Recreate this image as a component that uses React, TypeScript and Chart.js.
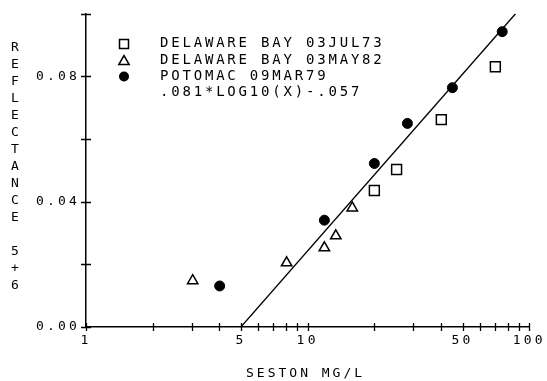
import React, { useEffect, useRef } from 'react';
import { Chart, registerables } from 'chart.js';

Chart.register(...registerables);

// ---- data ----
const squareX = [20.0, 25.2, 40.1, 70.3];
const squareY = [0.0436, 0.0503, 0.0662, 0.0831];
const triangleX = [3.03, 8.04, 11.9, 13.4, 15.9];
const triangleY = [0.0148, 0.0205, 0.0253, 0.0291, 0.038];
const circleX = [4.01, 11.9, 20.0, 28.2, 45.0, 75.5];
const circleY = [0.0131, 0.0341, 0.0522, 0.065, 0.0764, 0.0943];
const fitX = [5, 86.7];
const fitY = [0.0, 0.1];

const legendLabels = [
  'DELAWARE BAY 03JUL73',
  'DELAWARE BAY 03MAY82',
  'POTOMAC 09MAR79',
  '.081*LOG10(X)-.057',
];
const xTickValues = [1, 2, 3, 4, 5, 6, 7, 8, 9, 10, 20, 30, 40, 50, 60, 70, 80, 90, 100];
const xTickLabels = [1, 5, 10, 50, 100];
const yTickValues = [0, 0.02, 0.04, 0.06, 0.08, 0.1];
const yTickLabels = ['0.00', '0.04', '0.08'];
const xTitle = 'SESTON MG/L';
const yTitle = 'REFLECTANCE 5+6';

const FONT_FAMILY = '"DejaVu Sans Mono", "Liberation Mono", monospace';

const toPoints = (xs: number[], ys: number[]) => xs.map((x, i) => ({ x, y: ys[i] }));

const decorPlugin = {
  id: 'decor',
  beforeDraw(chart: any) {
    chart.ctx.letterSpacing = '3.2px';
  },
  afterDraw(chart: any) {
    const { ctx, chartArea, scales } = chart;
    const xs = scales.x;
    const ys = scales.y;
    ctx.save();
    ctx.strokeStyle = '#000';
    ctx.fillStyle = '#000';
    ctx.lineWidth = 1.3;
    // crossing tick marks
    ctx.beginPath();
    const axisY = chartArea.bottom;
    for (const v of xTickValues) {
      const px = Math.round(xs.getPixelForValue(v)) + 0.5;
      ctx.moveTo(px, axisY - 4);
      ctx.lineTo(px, axisY + 4);
    }
    const axisX = chartArea.left;
    for (const v of yTickValues) {
      const py = Math.round(ys.getPixelForValue(v)) + 0.5;
      ctx.moveTo(axisX - 5, py);
      ctx.lineTo(axisX + 5, py);
    }
    ctx.stroke();

    // legend
    const mx = 124;
    const tx = 160;
    const rows = [43.5, 60, 76.5, 92.5];
    ctx.lineWidth = 1.5;
    ctx.beginPath();
    ctx.rect(mx - 4.5, rows[0] - 4, 9, 9);
    ctx.stroke();
    const r = 6;
    const ty = rows[1] + 1.5;
    ctx.beginPath();
    ctx.moveTo(mx, ty - r);
    ctx.lineTo(mx + (r * Math.sqrt(3)) / 2, ty + r / 2);
    ctx.lineTo(mx - (r * Math.sqrt(3)) / 2, ty + r / 2);
    ctx.closePath();
    ctx.stroke();
    ctx.beginPath();
    ctx.arc(mx, rows[2], 5, 0, Math.PI * 2);
    ctx.fill();

    ctx.font = `14px ${FONT_FAMILY}`;
    ctx.letterSpacing = '2.8px';
    ctx.textAlign = 'left';
    ctx.textBaseline = 'middle';
    legendLabels.forEach((t, i) => ctx.fillText(t, tx, rows[i]));

    // x title
    ctx.font = `13px ${FONT_FAMILY}`;
    ctx.letterSpacing = '3px';
    ctx.textAlign = 'left';
    ctx.fillText(xTitle, 246, 374);

    // y title, stacked letters
    ctx.letterSpacing = '0px';
    ctx.textAlign = 'center';
    ctx.font = `13px ${FONT_FAMILY}`;
    yTitle.split('').forEach((ch, i) => {
      if (ch !== ' ') ctx.fillText(ch, 15, 48 + 17 * i);
    });
    ctx.restore();
  },
};

export default function App() {
  const ref = useRef<HTMLCanvasElement | null>(null);
  useEffect(() => {
    if (!ref.current) return;
    const chart = new Chart(ref.current, {
      type: 'scatter',
      data: {
        datasets: [
          {
            label: legendLabels[0],
            data: toPoints(squareX, squareY),
            pointStyle: 'rect',
            pointRadius: 7,
            borderColor: '#000',
            backgroundColor: 'rgba(255,255,255,0)',
            borderWidth: 1.5,
          },
          {
            label: legendLabels[1],
            data: toPoints(triangleX, triangleY),
            pointStyle: 'triangle',
            pointRadius: 6,
            borderColor: '#000',
            backgroundColor: 'rgba(255,255,255,0)',
            borderWidth: 1.5,
          },
          {
            label: legendLabels[2],
            data: toPoints(circleX, circleY),
            pointStyle: 'circle',
            pointRadius: 5,
            borderColor: '#000',
            backgroundColor: '#000',
            borderWidth: 1,
          },
          {
            label: legendLabels[3],
            data: toPoints(fitX, fitY),
            showLine: true,
            pointRadius: 0,
            borderColor: '#000',
            borderWidth: 1.3,
            backgroundColor: '#000',
          },
        ],
      },
      options: {
        animation: false,
        responsive: false,
        devicePixelRatio: 1,
        layout: { padding: { left: 0, right: 17, top: 13, bottom: 0 } },
        plugins: { legend: { display: false }, tooltip: { enabled: false } },
        scales: {
          x: {
            type: 'logarithmic',
            min: 1,
            max: 100,
            grid: { display: false, drawTicks: false },
            border: { display: true, color: '#000', width: 1.5 },
            afterBuildTicks: (scale: any) => {
              scale.ticks = xTickValues.map((v) => ({ value: v }));
            },
            afterFit: (scale: any) => {
              scale.height = 54;
            },
            ticks: {
              autoSkip: false,
              maxRotation: 0,
              minRotation: 0,
              padding: 6,
              color: '#000',
              font: { family: FONT_FAMILY, size: 13 },
              callback: (v: any) => (xTickLabels.includes(Number(v)) ? String(v) : ''),
            },
          },
          y: {
            type: 'linear',
            min: 0,
            max: 0.1,
            grid: { display: false, drawTicks: false },
            border: { display: true, color: '#000', width: 1.5 },
            afterBuildTicks: (scale: any) => {
              scale.ticks = yTickValues.map((v) => ({ value: v }));
            },
            afterFit: (scale: any) => {
              scale.width = 86;
            },
            ticks: {
              autoSkip: false,
              padding: 6,
              color: '#000',
              font: { family: FONT_FAMILY, size: 13 },
              callback: (v: any) => {
                const s = Number(v).toFixed(2);
                return yTickLabels.includes(s) ? s : '';
              },
            },
          },
        },
      },
      plugins: [decorPlugin],
    } as any);
    return () => chart.destroy();
  }, []);
  return (
    <div style={{ position: 'fixed', left: 0, top: 0, width: 547, height: 381, background: '#fff' }}>
      <canvas ref={ref} width={547} height={381} />
    </div>
  );
}
